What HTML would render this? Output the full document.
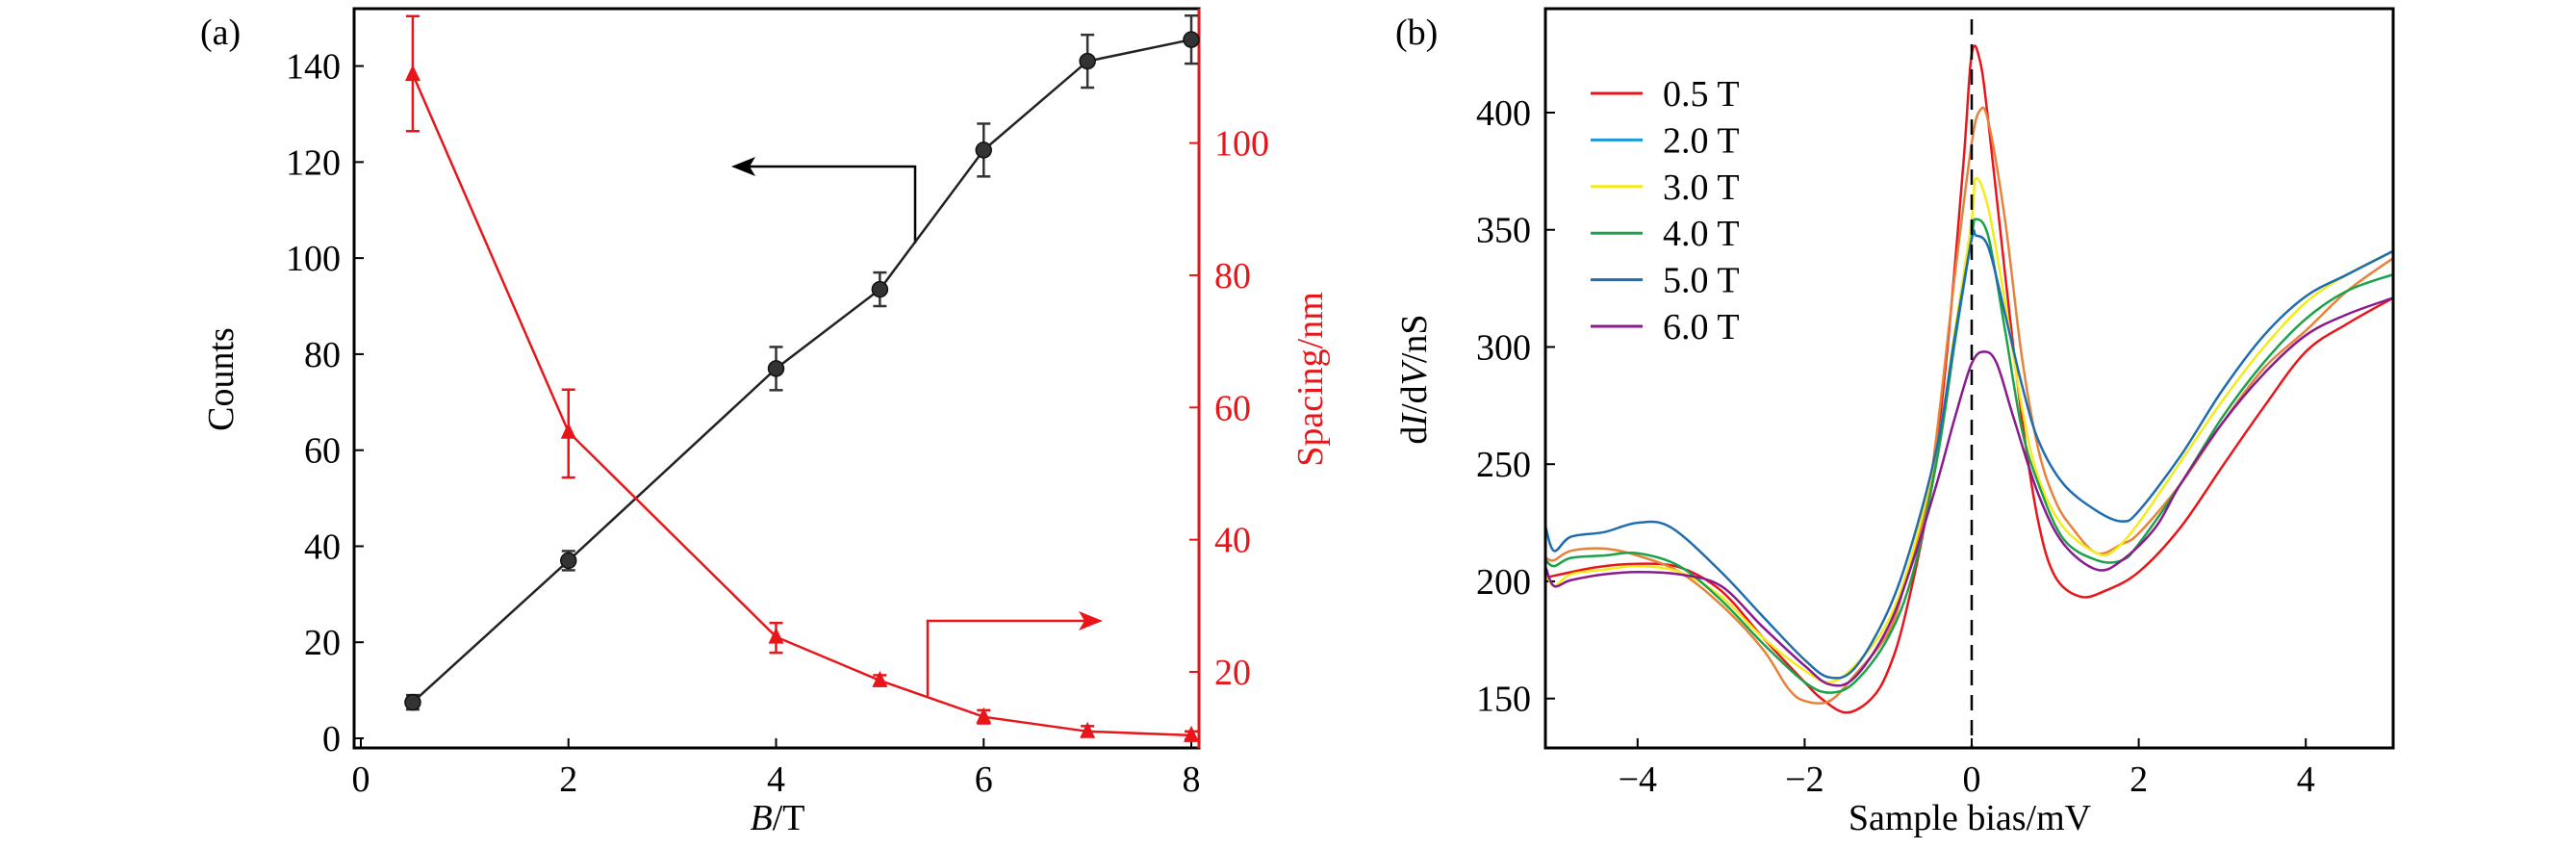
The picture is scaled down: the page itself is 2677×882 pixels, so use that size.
<!DOCTYPE html>
<html><head><meta charset="utf-8"><style>
body{margin:0;background:#fff}
svg{display:block}
text{font-family:"Liberation Serif",serif}
</style></head><body>
<svg id="chart" width="2677" height="882" viewBox="0 0 2677 882" xmlns="http://www.w3.org/2000/svg">
<g id="pa"></g>
<g id="pb"></g>
</svg>
<script>
// Panel (a) data
const fieldsA = [0.5, 2, 4, 5, 6, 7, 8];
const countsA = [7.5, 37, 77, 93.5, 122.5, 141, 145.5];
const countsErr = [1.5, 2, 4.5, 3.5, 5.5, 5.5, 5];
const spacingA = [110.4, 56.3, 25.3, 18.7, 13.2, 11, 10.4];
const spacingErrUp = [8.8, 6.4, 2.1, 0.8, 1, 0.8, 0.6];
const spacingErrDn = [8.6, 6.9, 2.4, 0.8, 1, 0.8, 0.6];
const xTicksA = [0, 2, 4, 6, 8];
const yTicksA = [0, 20, 40, 60, 80, 100, 120, 140];
const y2TicksA = [20, 40, 60, 80, 100];
// Panel (b) data
const seriesNames = ["0.5 T","2.0 T","3.0 T","4.0 T","5.0 T","6.0 T"];
const lineColors = ["#e8161b","#e8823a","#f2ec1c","#1aa34a","#1f6db0","#8a1a8e"];
const legendColors = ["#e8161b","#1b9ad6","#f2ec1c","#1aa34a","#1f6db0","#8a1a8e"];
const biasR = [-5.1,-4.5,-4,-3.5,-3,-2.5,-2,-1.8,-1.5,-1.2,-1,-0.8,-0.5,-0.3,-0.1,0,0.1,0.2,0.4,0.6,0.8,1.0,1.3,1.6,2.0,2.5,3,3.5,4,4.5,5.05];
const valR = [201.6,206,207.5,206,196,176,157,150,144,150,162,185,237,296,378,425,422,396,331,270,225,202,193.5,196,204,223,249,274.5,298,310,321];
const biasO = [-5.1,-5,-4.8,-4.4,-4,-3.5,-3,-2.5,-2.2,-2,-1.7,-1.4,-1,-0.8,-0.5,-0.2,0,0.1,0.2,0.4,0.6,0.8,1.0,1.2,1.5,1.8,2,2.5,3,3.5,4,4.5,5.05];
const valO = [210,209,213,214,211,204,190,171,154.5,149,149,160,178,199,241.5,331,387,401,396,354,296,256,234.5,223,212,216,220.5,241.5,267.5,291,307,324,338];
const biasY = [-5.1,-5,-4.8,-4.4,-4,-3.5,-3,-2.5,-2,-1.7,-1.4,-1,-0.7,-0.4,-0.2,0,0.05,0.2,0.4,0.6,0.8,1.1,1.5,1.7,2,2.5,3,3.5,4,4.5,5.05];
const valY = [204,198,203,205,206.5,204,193.5,176,162,157,164,183,213.5,260,307,354,372,359,319,274.5,244,223,212,213,225,251,277,300,319,331,341];
const biasG = [-5.1,-5,-4.8,-4.4,-4,-3.5,-3,-2.5,-2,-1.7,-1.4,-1,-0.7,-0.4,-0.2,0,0.05,0.2,0.4,0.6,0.8,1.1,1.5,1.8,2,2.5,3,3.5,4,4.5,5.05];
const valG = [209,206.5,210,211,212,206.5,192,173.5,157,152.5,157,176,204,255,302.5,347,354.5,347,307,265,241.5,218,209,209,216,241.5,270,293.5,312,324,331];
const biasB = [-5.1,-5,-4.8,-4.4,-4,-3.6,-3,-2.5,-2,-1.7,-1.4,-1,-0.7,-0.4,-0.2,0,0.05,0.2,0.4,0.6,0.8,1.1,1.5,1.8,2,2.5,3,3.5,4,4.5,5.05];
const valB = [223,213,219,221,225,223,204,185,166.5,159,163,187.5,218,260,305,346,347.6,342.5,314,284,260,241.5,230,225.6,230,253.5,281.5,305,321.6,331,341];
const biasP = [-5.1,-5,-4.8,-4.4,-4,-3.5,-3,-2.5,-2,-1.7,-1.4,-1,-0.7,-0.4,-0.2,0,0.15,0.3,0.5,0.8,1.1,1.5,1.8,2.2,2.5,3,3.5,4,4.5,5.05];
const valP = [206,198,200.5,203,204,203,198,180.5,164,156,159,180.5,209,244,270,293,298,293,270,237,216,205,209,223,241.5,267.5,288.7,305,314,321];
const xTicksB = [-4,-2,0,2,4];
const yTicksB = [150,200,250,300,350,400];

const NS="http://www.w3.org/2000/svg";
function mk(parent, tag, attrs, txt){const e=document.createElementNS(NS,tag);for(const k in attrs)e.setAttribute(k,attrs[k]);if(txt!==undefined)e.textContent=txt;parent.appendChild(e);return e;}
function smooth(pts){let d="M"+pts[0][0]+","+pts[0][1];for(let i=0;i<pts.length-1;i++){const p0=pts[Math.max(0,i-1)],p1=pts[i],p2=pts[i+1],p3=pts[Math.min(pts.length-1,i+2)];const c1=[p1[0]+(p2[0]-p0[0])/6,p1[1]+(p2[1]-p0[1])/6],c2=[p2[0]-(p3[0]-p1[0])/6,p2[1]-(p3[1]-p1[1])/6];d+=" C"+c1[0]+","+c1[1]+" "+c2[0]+","+c2[1]+" "+p2[0]+","+p2[1];}return d;}

// ---- Panel A ----
const A={l:368,r:1246,t:9,b:777};
const ax=v=>375+(v-0)*(1238-375)/8;
const ay=v=>767-v*(767-68.6)/140;
const ay2=v=>698-(v-20)*(698-148.6)/80;
const pa=document.getElementById('pa');
let e;
e=mk(pa,'rect',{x:A.l,y:A.t,width:A.r-A.l,height:A.b-A.t,fill:'none',stroke:'#000','stroke-width':3});


mk(pa,'line',{x1:A.r,y1:A.t,x2:A.r,y2:A.b,stroke:'#e8161b','stroke-width':3});
xTicksA.forEach(v=>{
 mk(pa,'line',{x1:ax(v),y1:A.b,x2:ax(v),y2:A.b-10,stroke:'#000','stroke-width':2});
 e=mk(pa,'text',{x:ax(v),y:822,'font-size':38,'text-anchor':'middle'},String(v));
 
 
});
yTicksA.forEach(v=>{
 mk(pa,'line',{x1:A.l,y1:ay(v),x2:A.l+10,y2:ay(v),stroke:'#000','stroke-width':2});
 e=mk(pa,'text',{x:354,y:ay(v)+13,'font-size':38,'text-anchor':'end'},String(v));
 
 
});
y2TicksA.forEach(v=>{
 mk(pa,'line',{x1:A.r,y1:ay2(v),x2:A.r-10,y2:ay2(v),stroke:'#e8161b','stroke-width':2});
 e=mk(pa,'text',{x:1262,y:ay2(v)+13,'font-size':38,fill:'#e8161b'},String(v));
 
 
});
// arrows
mk(pa,'polyline',{points:`951,253 951,173 775,173`,fill:'none',stroke:'#000','stroke-width':2.5});
mk(pa,'polygon',{points:`760,173 785,163 779,173 785,183`,fill:'#000'});
mk(pa,'polyline',{points:`964,723 964,645 1132,645`,fill:'none',stroke:'#e8161b','stroke-width':2.5});
mk(pa,'polygon',{points:`1146,645 1121,635 1127,645 1121,655`,fill:'#e8161b'});
// black series
e=mk(pa,'polyline',{points:fieldsA.map((x,i)=>ax(x)+','+ay(countsA[i])).join(' '),fill:'none',stroke:'#222','stroke-width':2.5});


fieldsA.forEach((x,i)=>{
 const X=ax(x),y1=ay(countsA[i]+countsErr[i]),y2=ay(countsA[i]-countsErr[i]);
 mk(pa,'line',{x1:X,y1:y1,x2:X,y2:y2,stroke:'#333','stroke-width':2.5});
 mk(pa,'line',{x1:X-7,y1:y1,x2:X+7,y2:y1,stroke:'#333','stroke-width':2.5});
 mk(pa,'line',{x1:X-7,y1:y2,x2:X+7,y2:y2,stroke:'#333','stroke-width':2.5});
 e=mk(pa,'circle',{cx:X,cy:ay(countsA[i]),r:8,fill:'#333',stroke:'#111','stroke-width':1.5});
 
 
});
// red series
e=mk(pa,'polyline',{points:fieldsA.map((x,i)=>ax(x)+','+ay2(spacingA[i])).join(' '),fill:'none',stroke:'#e8161b','stroke-width':2.5});


fieldsA.forEach((x,i)=>{
 const X=ax(x),Y=ay2(spacingA[i]),y1=ay2(spacingA[i]+spacingErrUp[i]),y2=ay2(spacingA[i]-spacingErrDn[i]);
 mk(pa,'line',{x1:X,y1:y1,x2:X,y2:y2,stroke:'#e8161b','stroke-width':2.5});
 mk(pa,'line',{x1:X-7,y1:y1,x2:X+7,y2:y1,stroke:'#e8161b','stroke-width':2.5});
 mk(pa,'line',{x1:X-7,y1:y2,x2:X+7,y2:y2,stroke:'#e8161b','stroke-width':2.5});
 e=mk(pa,'polygon',{points:`${X},${Y-10} ${X-8},${Y+7} ${X+8},${Y+7}`,fill:'#e8161b'});
 
 
});
e=mk(pa,'text',{x:208,y:46,'font-size':38},'(a)');


e=mk(pa,'text',{x:0,y:0,'font-size':38,'text-anchor':'middle',transform:'translate(242,394) rotate(-90)'},'Counts');


e=mk(pa,'text',{x:0,y:0,'font-size':38,'text-anchor':'middle',fill:'#e8161b',transform:'translate(1374,394) rotate(-90)'},'Spacing/nm');


e=mk(pa,'text',{x:808,y:882-20,'font-size':38,'text-anchor':'middle'});
mk(e,'tspan',{'font-style':'italic'},'B');mk(e,'tspan',{},'/T');



// ---- Panel B ----
const B={l:1606,r:2487,t:9,b:777};
const bx=v=>2049+v*86.8;
const by=v=>117+(400-v)*(725.7-117)/250;
const pb=document.getElementById('pb');
const clip=mk(pb,'clipPath',{id:'cb'});mk(clip,'rect',{x:B.l,y:B.t,width:B.r-B.l,height:B.b-B.t});
xTicksB.forEach(v=>{
 mk(pb,'line',{x1:bx(v),y1:B.b,x2:bx(v),y2:B.b-10,stroke:'#000','stroke-width':2});
 e=mk(pb,'text',{x:bx(v),y:822,'font-size':38,'text-anchor':'middle'},v<0?'\u2212'+(-v):String(v));
 
 
});
yTicksB.forEach(v=>{
 mk(pb,'line',{x1:B.l,y1:by(v),x2:B.l+10,y2:by(v),stroke:'#000','stroke-width':2});
 e=mk(pb,'text',{x:1591,y:by(v)+13,'font-size':38,'text-anchor':'end'},String(v));
 
 
});
const xs=[biasR,biasO,biasY,biasG,biasB,biasP], ys=[valR,valO,valY,valG,valB,valP];
const gc=mk(pb,'g',{'clip-path':'url(#cb)'});
xs.forEach((arr,k)=>{
 e=mk(gc,'path',{d:smooth(arr.map((x,i)=>[bx(x),by(ys[k][i])])),fill:'none',stroke:lineColors[k],'stroke-width':2.5});
 
 
});
e=mk(pb,'line',{x1:bx(0),y1:20,x2:bx(0),y2:B.b,stroke:'#000','stroke-width':2.5,'stroke-dasharray':'16,10'});


e=mk(pb,'rect',{x:B.l,y:B.t,width:B.r-B.l,height:B.b-B.t,fill:'none',stroke:'#000','stroke-width':3});


seriesNames.forEach((n,k)=>{
 const y=97+k*48.4;
 const g=mk(pb,'g',{});
 
 
 mk(g,'line',{x1:1653,y1:y,x2:1707,y2:y,stroke:legendColors[k],'stroke-width':3});
 mk(g,'text',{x:1728,y:y+13,'font-size':38},n);
});
e=mk(pb,'text',{x:1450,y:46,'font-size':38},'(b)');


e=mk(pb,'text',{x:0,y:0,'font-size':38,'text-anchor':'middle',transform:'translate(1482,394) rotate(-90)'});
mk(e,'tspan',{},'d');mk(e,'tspan',{'font-style':'italic'},'I');mk(e,'tspan',{},'/d');mk(e,'tspan',{'font-style':'italic'},'V');mk(e,'tspan',{},'/nS');


e=mk(pb,'text',{x:2047,y:862,'font-size':38,'text-anchor':'middle'},'Sample bias/mV');


</script>
</body></html>
